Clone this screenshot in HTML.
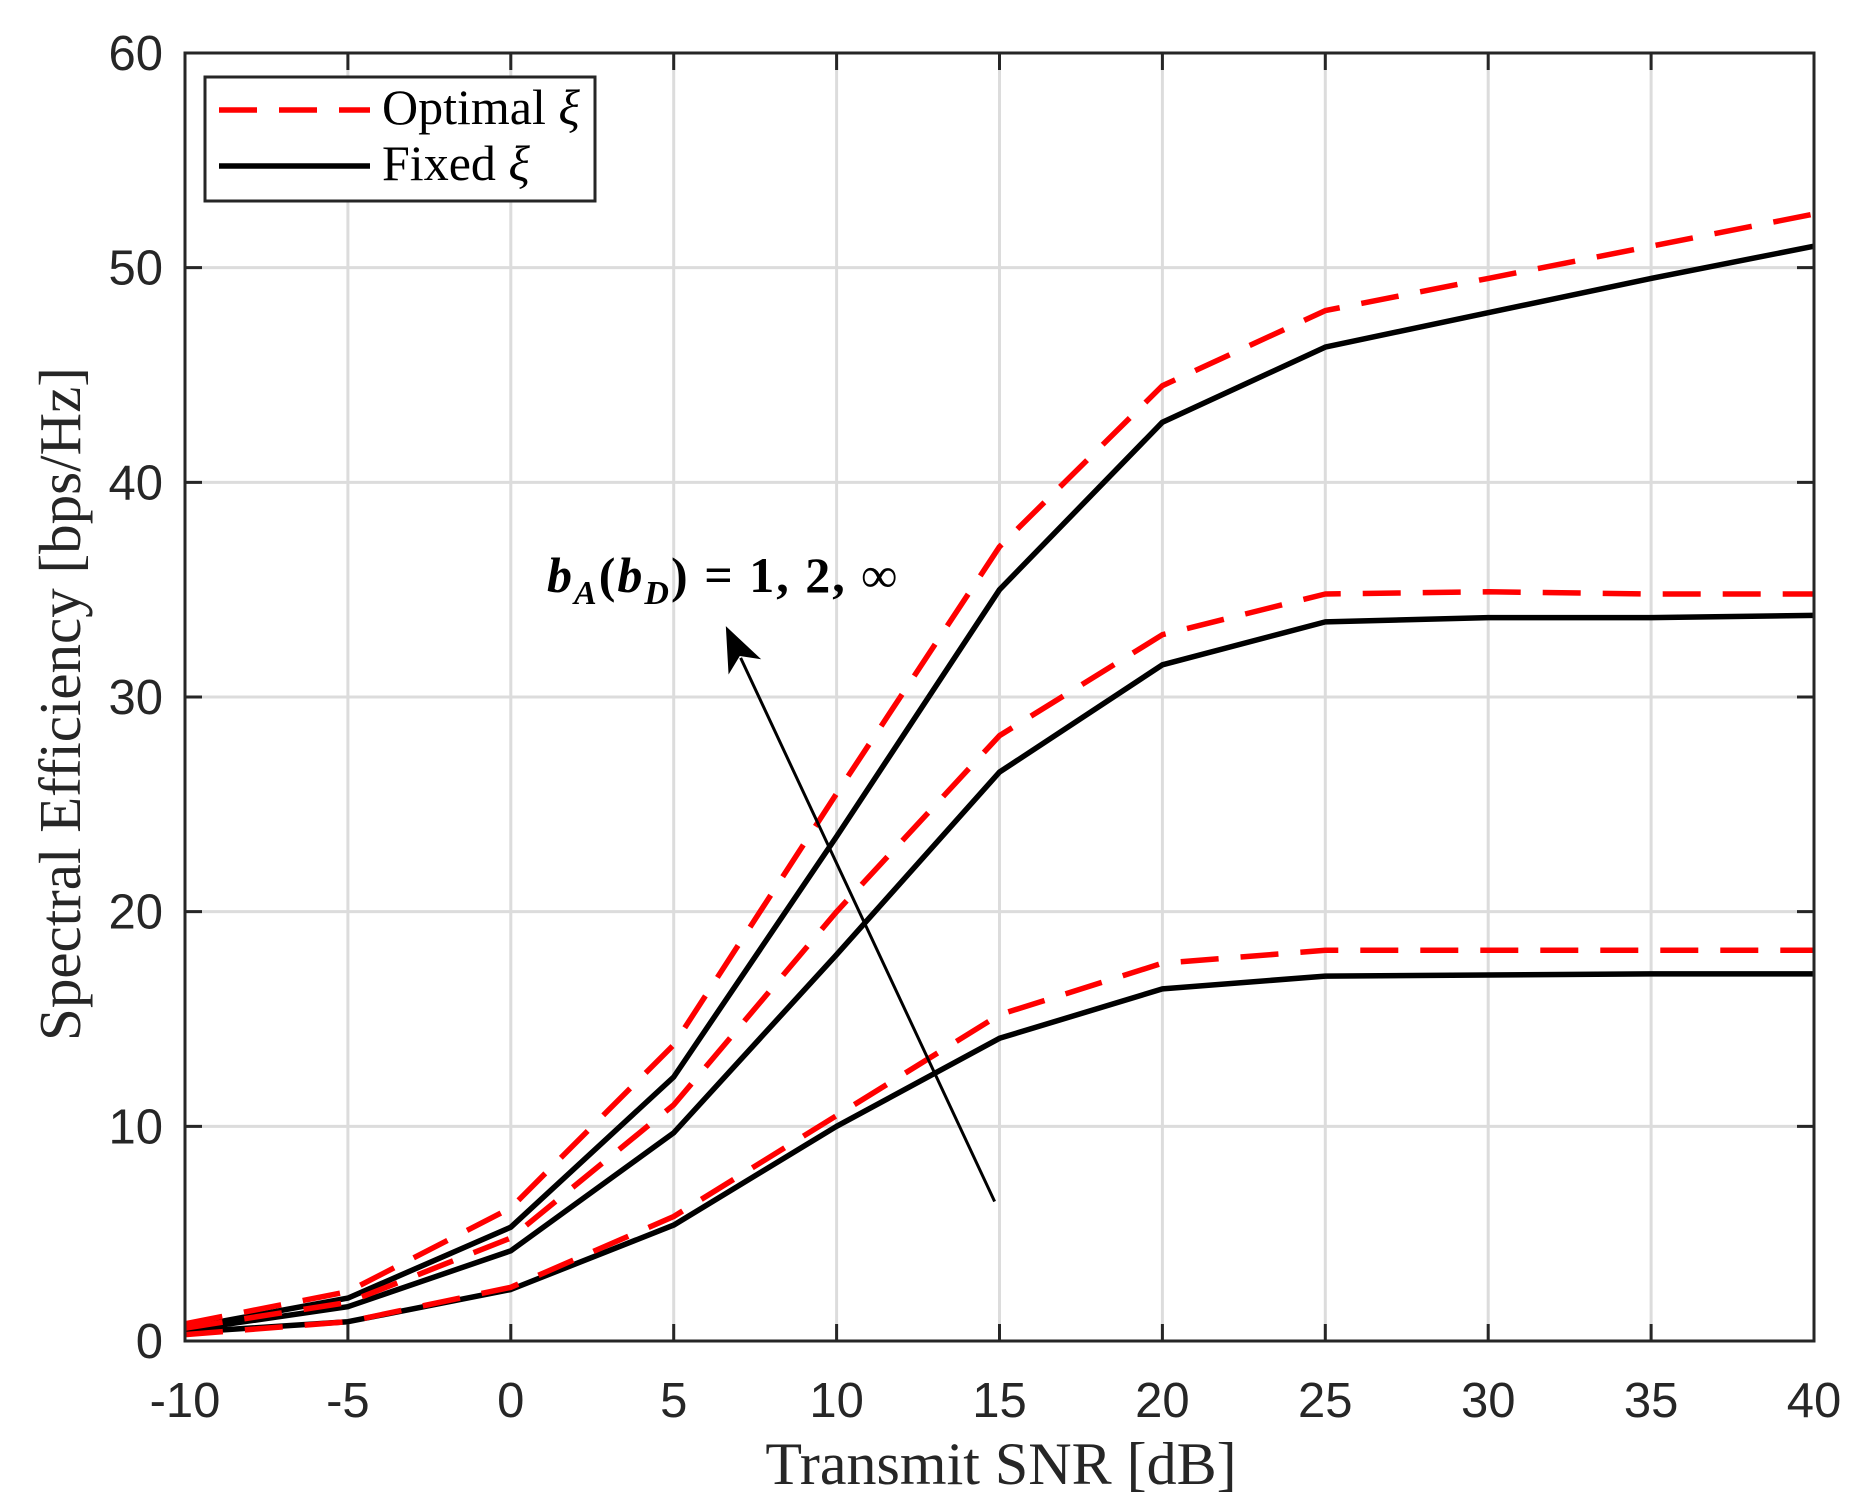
<!DOCTYPE html>
<html><head><meta charset="utf-8"><style>
html,body{margin:0;padding:0;background:#fff;}
svg{display:block;}
</style></head><body>
<svg id="chart" width="1863" height="1499" viewBox="0 0 1863 1499" xmlns="http://www.w3.org/2000/svg">
<rect x="0" y="0" width="1863" height="1499" fill="#fff"/>
<g id="grid"></g>
<g id="series"></g>
<g id="axes"></g>
<g>
<line id="arrowline" stroke="#000" stroke-width="3"/>
<polygon id="arrowhead" fill="#000"/>
<text x="547" y="592" font-family="'Liberation Serif',serif" font-size="50" font-weight="bold" fill="#000" textLength="350" lengthAdjust="spacing"><tspan font-style="italic">b</tspan><tspan font-style="italic" font-size="34" dy="12">A</tspan><tspan dy="-12">(</tspan><tspan font-style="italic">b</tspan><tspan font-style="italic" font-size="34" dy="12">D</tspan><tspan dy="-12">) = 1, 2, ∞</tspan></text>
</g>
<g>
<rect x="205" y="77" width="390" height="124" fill="#fff" stroke="#262626" stroke-width="3"/>
<line x1="219" y1="110" x2="370" y2="110" stroke="#ff0000" stroke-width="5.5" stroke-dasharray="38,22"/>
<text x="382" y="124" font-family="'Liberation Serif',serif" font-size="50" fill="#000">Optimal <tspan font-style="italic">ξ</tspan></text>
<line x1="219" y1="166" x2="370" y2="166" stroke="#000" stroke-width="5.5"/>
<text x="382" y="180" font-family="'Liberation Serif',serif" font-size="50" fill="#000">Fixed <tspan font-style="italic">ξ</tspan></text>
</g>
<text x="1001" y="1484" text-anchor="middle" font-family="'Liberation Serif',serif" font-size="60" fill="#262626">Transmit SNR [dB]</text>
<text transform="translate(80,704) rotate(-90)" text-anchor="middle" font-family="'Liberation Serif',serif" font-size="59" fill="#262626">Spectral Efficiency [bps/Hz]</text>
</svg>
<script>
const snr = [-10,-5,0,5,10,15,20,25,30,35,40];
const optimalB1 = [0.3,0.9,2.5,5.8,10.5,15.2,17.6,18.2,18.2,18.2,18.2];
const fixedB1 = [0.4,0.9,2.4,5.4,10.0,14.1,16.4,17.0,17.05,17.1,17.1];
const optimalB2 = [0.6,1.8,4.8,11.0,20.0,28.2,32.9,34.8,34.9,34.8,34.8];
const fixedB2 = [0.5,1.6,4.2,9.7,18.0,26.5,31.5,33.5,33.7,33.7,33.8];
const optimalBInf = [0.8,2.3,6.2,13.8,25.5,37.0,44.5,48.0,49.5,51.0,52.5];
const fixedBInf = [0.6,2.0,5.3,12.3,23.5,35.0,42.8,46.3,47.9,49.5,51.0];
const xTicks = [-10,-5,0,5,10,15,20,25,30,35,40];
const yTicks = [0,10,20,30,40,50,60];
const arrowFrom = [14.85,6.5];
const arrowTo = [6.6,33.3];

const L=185,R=1814,T=53,B=1341;
const xs=v=>L+(v+10)/50*(R-L);
const ys=v=>B-v/60*(B-T);
const NS='http://www.w3.org/2000/svg';
function mk(tag,attrs,parent){const e=document.createElementNS(NS,tag);for(const k in attrs)e.setAttribute(k,attrs[k]);parent.appendChild(e);return e;}
const grid=document.getElementById('grid'),axes=document.getElementById('axes'),series=document.getElementById('series');
xTicks.forEach(t=>{
  const g=mk('line',{x1:xs(t),x2:xs(t),y1:T,y2:B,stroke:'#dcdcdc','stroke-width':3},grid);
  
  
  const a=mk('line',{x1:xs(t),x2:xs(t),y1:B,y2:B-17,stroke:'#262626','stroke-width':3},axes);
  
  
  const b=mk('line',{x1:xs(t),x2:xs(t),y1:T,y2:T+17,stroke:'#262626','stroke-width':3},axes);
  
  
  const tx=mk('text',{x:xs(t),y:1417,'text-anchor':'middle','font-family':"'Liberation Sans',sans-serif",'font-size':49,fill:'#262626'},axes);
  tx.textContent=t;
  
  
});
yTicks.forEach(t=>{
  const g=mk('line',{x1:L,x2:R,y1:ys(t),y2:ys(t),stroke:'#dcdcdc','stroke-width':3},grid);
  
  
  const a=mk('line',{x1:L,x2:L+17,y1:ys(t),y2:ys(t),stroke:'#262626','stroke-width':3},axes);
  
  
  const b=mk('line',{x1:R,x2:R-17,y1:ys(t),y2:ys(t),stroke:'#262626','stroke-width':3},axes);
  
  
  const tx=mk('text',{x:163,y:ys(t)+17,'text-anchor':'end','font-family':"'Liberation Sans',sans-serif",'font-size':49,fill:'#262626'},axes);
  tx.textContent=t;
  
  
});
const frame=mk('rect',{x:L,y:T,width:R-L,height:B-T,fill:'none',stroke:'#262626','stroke-width':3},axes);


const defs=[
 [fixedB1,'fixed-b1',false],[fixedB2,'fixed-b2',false],[fixedBInf,'fixed-binf',false],
 [optimalB1,'optimal-b1',true],[optimalB2,'optimal-b2',true],[optimalBInf,'optimal-binf',true]];
defs.forEach(([vals,name,dash])=>{
  const pts=vals.map((v,i)=>xs(snr[i]).toFixed(1)+','+ys(v).toFixed(1)).join(' ');
  const attrs={points:pts,fill:'none',stroke:dash?'#ff0000':'#000','stroke-width':5.5,'stroke-linejoin':'round'};
  if(dash)attrs['stroke-dasharray']='38,22';
  const p=mk('polyline',attrs,series);
  
  
});
const x1=xs(arrowFrom[0]),y1=ys(arrowFrom[1]),x2=xs(arrowTo[0]),y2=ys(arrowTo[1]);
const dx=x2-x1,dy=y2-y1,len=Math.hypot(dx,dy),ux=dx/len,uy=dy/len;
const hl=45,hw=18,bx=x2-ux*hl,by=y2-uy*hl;
const al=document.getElementById('arrowline');
al.setAttribute('x1',x1);al.setAttribute('y1',y1);al.setAttribute('x2',bx+ux*10);al.setAttribute('y2',by+uy*10);
document.getElementById('arrowhead').setAttribute('points',
 `${x2},${y2} ${bx-uy*hw},${by+ux*hw} ${bx+ux*12},${by+uy*12} ${bx+uy*hw},${by-ux*hw}`);
</script>
</body></html>
